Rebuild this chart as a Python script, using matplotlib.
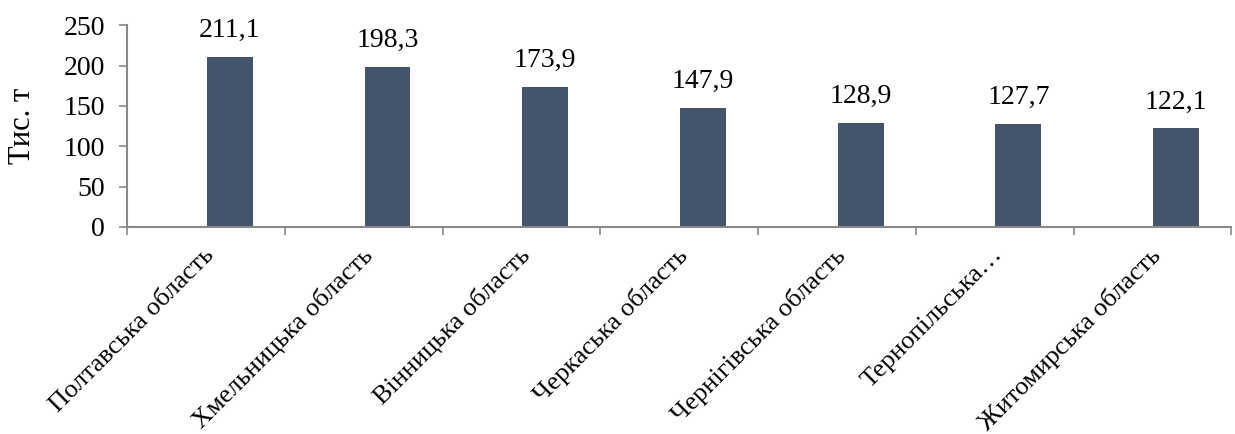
import numpy as np
import matplotlib.pyplot as plt

plt.rcParams['font.family'] = ['Liberation Serif', 'DejaVu Serif']

regions = ["Полтавська область", "Хмельницька область", "Вінницька область",
           "Черкаська область", "Чернігівська область", "Тернопільська…",
           "Житомирська область"]
values = [211.1, 198.3, 173.9, 147.9, 128.9, 127.7, 122.1]
value_labels = ["211,1", "198,3", "173,9", "147,9", "128,9", "127,7", "122,1"]

fig = plt.figure(figsize=(12.35, 4.34), dpi=100)
ax = fig.add_axes([0.103, 0.477, 0.894, 0.465])

x = np.arange(len(regions))
# bars sit a little right of the category centre, as in the original
bar_x = x + 0.15
ax.bar(bar_x, values, width=0.29, color='#44546A')

for bx, v, lab in zip(bar_x, values, value_labels):
    ax.annotate(lab, (bx, v), xytext=(0, 10), textcoords='offset points',
                ha='center', va='bottom', fontsize=20)

ax.set_xlim(-0.5, len(regions) - 0.5)
ax.set_ylim(0, 250)
ax.set_yticks(range(0, 251, 50))
ax.set_ylabel("Тис. т", fontsize=22, labelpad=19)

ax.set_xticks(np.arange(len(regions) + 1) - 0.5)
ax.set_xticklabels([])
ax.set_xticks(x - 0.02, minor=True)
ax.set_xticklabels(regions, minor=True, rotation=45, ha='right',
                   rotation_mode='anchor', fontsize=19)
ax.tick_params(axis='x', which='minor', length=0, pad=12)
ax.tick_params(axis='x', which='major', length=6, width=1.2,
               color='#898989', direction='out')
ax.tick_params(axis='y', length=6, width=1.2, color='#898989',
               labelsize=20, pad=10)

for s in ['top', 'right']:
    ax.spines[s].set_visible(False)
for s in ['left', 'bottom']:
    ax.spines[s].set_color('#898989')
    ax.spines[s].set_linewidth(1.5)

fig.savefig('out.png', dpi=100)
